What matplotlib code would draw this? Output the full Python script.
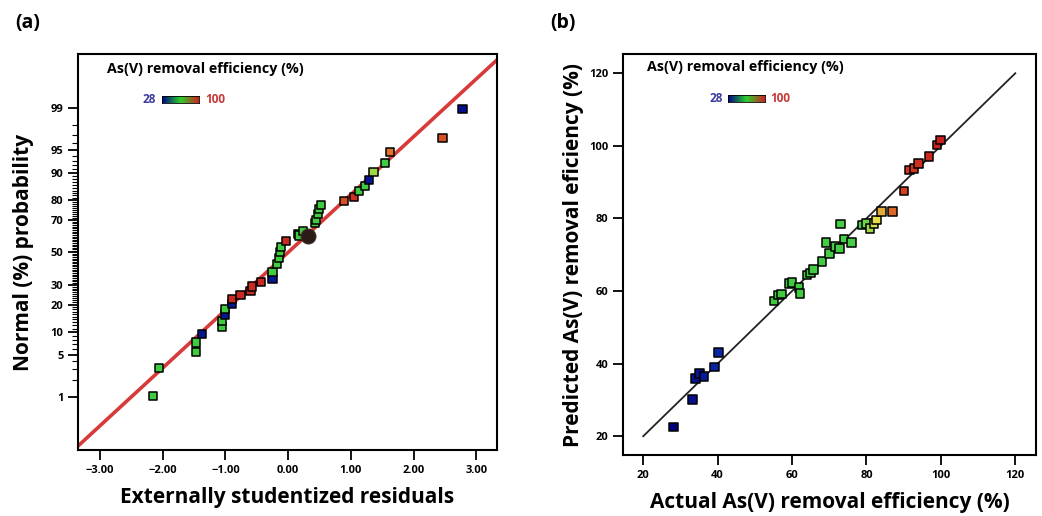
import matplotlib
matplotlib.use("Agg")
import matplotlib.pyplot as plt
import numpy as np
from matplotlib.colors import LinearSegmentedColormap
from statistics import NormalDist

plt.rcParams['font.family'] = ['Open Sans', 'DejaVu Sans']

# ---------------- data: panel (a) normal probability plot ----------------
res_x = [-2.15, -2.06, -1.47, -1.47, -1.37, -1.06, -1.05, -1.00, -1.00, -0.89,
         -0.89, -0.76, -0.60, -0.57, -0.44, -0.25, -0.25, -0.18, -0.14, -0.13,
         -0.12, -0.03, 0.16, 0.17, 0.24, 0.43, 0.45, 0.48, 0.49, 0.52,
         0.89, 1.05, 1.13, 1.22, 1.29, 1.36, 1.54, 1.62, 2.46, 2.78]
res_z = [-2.31, -1.86, -1.61, -1.45, -1.31, -1.20, -1.10, -1.00, -0.91, -0.83,
         -0.75, -0.69, -0.62, -0.55, -0.48, -0.43, -0.31, -0.19, -0.09, 0.00,
         0.08, 0.18, 0.30, 0.27, 0.35, 0.47, 0.52, 0.62, 0.69, 0.76,
         0.82, 0.89, 0.99, 1.07, 1.17, 1.29, 1.44, 1.61, 1.84, 2.30]
res_val = [62, 62, 62, 62, 35, 62, 62, 35, 62, 35,
           96, 96, 96, 96, 96, 35, 62, 62, 62, 62,
           62, 96, 62, 62, 62, 62, 62, 62, 62, 62,
           89, 94, 64, 64, 35, 81, 66, 86, 89, 33]
circle_x = [0.32]
circle_z = [0.27]
fit_x = [-4.0, 4.0]
fit_z = [-3.72, 3.72]
prob_ticks = [1, 5, 10, 20, 30, 50, 70, 80, 90, 95, 99]
res_ticks = [-3, -2, -1, 0, 1, 2, 3]

# ---------------- data: panel (b) predicted vs actual ----------------
act = [28.2, 33.2, 34.1, 35.2, 36.3, 39.1, 40.2, 55.2, 56.3, 57.2,
       59.2, 60.0, 61.9, 62.1, 64.0, 64.9, 65.8, 68.1, 69.1, 70.0,
       71.5, 72.8, 73.1, 74.0, 76.0, 78.9, 80.0, 80.9, 82.0, 82.7,
       84.0, 87.0, 90.1, 91.6, 92.8, 94.0, 96.8, 99.0, 99.9]
pred = [22.6, 30.1, 35.9, 37.3, 36.4, 39.1, 43.0, 57.3, 58.9, 59.2,
        62.1, 62.3, 61.0, 59.3, 64.4, 65.0, 66.0, 68.1, 73.3, 70.4,
        72.2, 71.7, 78.5, 74.3, 73.4, 78.2, 78.6, 77.3, 78.6, 79.6,
        81.9, 81.9, 87.6, 93.3, 93.8, 95.2, 97.0, 100.2, 101.6]
diag = [20, 120]
b_ticks = [20, 40, 60, 80, 100, 120]

cmap = LinearSegmentedColormap.from_list('dx', [
    (0.0, '#00007a'), (0.18, '#0a2aa8'), (0.32, '#3cc83c'), (0.71, '#48cf48'),
    (0.76, '#e6e04a'), (0.80, '#e07a2a'), (0.87, '#d23a22'), (1.0, '#c42020')])

nd = NormalDist()

fig = plt.figure(figsize=(10.42, 5.16), dpi=100)
axa = fig.add_axes([0.0749, 0.1279, 0.4021, 0.7674])
axb = fig.add_axes([0.598, 0.118, 0.396, 0.7773])

# ---- panel (a)
axa.plot(fit_x, fit_z, color='#d83a3a', lw=2.6, zorder=1)
axa.scatter(res_x, res_z, c=res_val, cmap=cmap, vmin=28, vmax=100, marker='s',
            s=34, edgecolors='black', linewidths=1.1, zorder=3)
axa.scatter(circle_x, circle_z, s=110, color='#2b1a16', edgecolors='#3b2a22', zorder=4)
axa.set_xlim(-3.35, 3.33)
axa.set_ylim(-3.18, 3.19)
axa.set_xticks(res_ticks)
axa.set_xticklabels([('\u2212' if v < 0 else '') + f'{abs(v):.2f}' for v in res_ticks])
axa.set_yticks([nd.inv_cdf(p / 100) for p in prob_ticks])
axa.set_yticklabels([str(p) for p in prob_ticks])
minor_p = [p for p in range(2, 99) if p not in prob_ticks]
axa.set_yticks([nd.inv_cdf(p / 100) for p in minor_p], minor=True)
axa.tick_params(axis='y', which='minor', length=4, width=0.8)
axa.set_xlabel('Externally studentized residuals', fontsize=15, fontweight='bold', labelpad=8)
axa.set_ylabel('Normal (%) probability', fontsize=15, fontweight='bold', labelpad=12)

# ---- panel (b)
axb.plot(diag, diag, color='#222222', lw=1.3, zorder=1)
axb.scatter(act, pred, c=act, cmap=cmap, vmin=28, vmax=100, marker='s',
            s=38, edgecolors='black', linewidths=1.1, zorder=3)
axb.set_xlim(14.6, 125.5)
axb.set_ylim(14.8, 125.3)
axb.set_xticks(b_ticks)
axb.set_yticks(b_ticks)
axb.set_xlabel('Actual As(V) removal efficiency (%)', fontsize=15, fontweight='bold', labelpad=8)
axb.set_ylabel('Predicted As(V) removal eficiency (%)', fontsize=15, fontweight='bold', labelpad=4)

for ax in (axa, axb):
    for s in ax.spines.values():
        s.set_linewidth(1.5)
    ax.tick_params(axis='both', which='major', direction='out', length=7, width=1.3,
                   labelsize=8)
    for lab in ax.get_xticklabels() + ax.get_yticklabels():
        lab.set_fontweight('bold')

# ---- colour legends
grad = np.linspace(0, 1, 256).reshape(1, -1)
def legend(ax, title_x, title_y, lo_x, lo_y, hi_x, bar_rect):
    ax.text(title_x, title_y, 'As(V) removal efficiency (%)', transform=ax.transAxes,
            fontsize=10.3, fontweight='bold', ha='left', va='center')
    ax.text(lo_x, lo_y, '28', transform=ax.transAxes, fontsize=8.5, fontweight='bold',
            color='#3a3aa0', ha='center', va='center')
    ax.text(hi_x, lo_y, '100', transform=ax.transAxes, fontsize=8.5, fontweight='bold',
            color='#c83a3a', ha='left', va='center')
    cax = fig.add_axes(bar_rect)
    cax.imshow(grad, aspect='auto', cmap=LinearSegmentedColormap.from_list(
        'bar', ['#00008a', '#2ad02a', '#d02020']))
    cax.set_xticks([]); cax.set_yticks([])
    for s in cax.spines.values():
        s.set_linewidth(0.6)

legend(axa, 0.0685, 0.962, 0.169, 0.886, 0.303, [0.1558, 0.7998, 0.0352, 0.0141])
legend(axb, 0.0567, 0.968, 0.226, 0.8895, 0.3555, [0.6987, 0.8023, 0.0355, 0.0136])

fig.text(0.027, 0.955, '(a)', fontsize=14, fontweight='bold', ha='center', va='center')
fig.text(0.540, 0.955, '(b)', fontsize=14, fontweight='bold', ha='center', va='center')

fig.savefig('out.png', dpi=100)
